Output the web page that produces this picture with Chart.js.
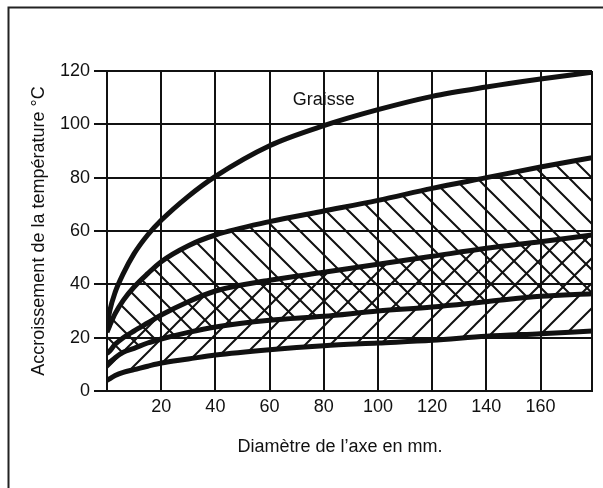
<!DOCTYPE html>
<html lang="fr">
<head>
    <meta charset="UTF-8">
    <title>Accroissement de la température</title>
    <script src="https://cdn.jsdelivr.net/npm/chart.js"></script>
    <style>
        html, body {
            margin: 0;
            padding: 0;
            background-color: #ffffff;
        }
        #chart-box {
            width: 603px;
            height: 488px;
        }
    </style>
</head>
<body>

<div id="chart-box">
    <canvas id="tempChart" width="603" height="488"></canvas>
</div>

<script>
// diamètre de l'axe (mm)
const diameters = [0, 1, 3, 6, 10, 15, 20, 30, 40, 60, 80, 100, 120, 140, 160, 179];

// accroissement de la température (°C), courbes du haut vers le bas
const graisse = [24, 30, 37, 44, 51.5, 58.5, 64, 73, 80.5, 92, 99.5, 105.5, 110.5, 114, 117, 119.5];
const curve2  = [22, 24.5, 29, 34, 39, 44, 48.5, 54.5, 58.5, 63.5, 67.5, 71.5, 76, 80, 84, 87.5];
const curve3  = [14, 15, 17.5, 20, 22.5, 25.5, 28.5, 33.5, 37.5, 41.5, 44.5, 47.5, 50.5, 53.5, 56, 58.5];
const curve4  = [10, 10.8, 12.5, 14.5, 16, 18, 19.5, 22, 24, 26.5, 28, 30, 31.5, 33.5, 35.5, 36.5];
const curve5  = [4, 4.6, 5.8, 7, 8, 9.3, 10.5, 12, 13.5, 15.5, 17, 18, 19, 20.5, 21.5, 22.5];

const xTicks = [20, 40, 60, 80, 100, 120, 140, 160];

const ink = '#111111';
const fontFamily = "'Liberation Sans', Arial, sans-serif";

// hachures
function makeHatch(size, forward) {
    const c = document.createElement('canvas');
    c.width = size;
    c.height = size;
    const g = c.getContext('2d');
    g.strokeStyle = ink;
    g.lineWidth = 2;
    g.beginPath();
    if (forward) {
        g.moveTo(0, size); g.lineTo(size, 0);
        g.moveTo(-2, 2); g.lineTo(2, -2);
        g.moveTo(size - 2, size + 2); g.lineTo(size + 2, size - 2);
    } else {
        g.moveTo(0, 0); g.lineTo(size, size);
        g.moveTo(-2, size - 2); g.lineTo(2, size + 2);
        g.moveTo(size - 2, -2); g.lineTo(size + 2, 2);
    }
    g.stroke();
    return g.createPattern(c, 'repeat');
}

const backHatch = makeHatch(23, false);
const fwdHatch = makeHatch(25, true);

function curve(data, fill, bg) {
    return {
        data: data,
        borderColor: ink,
        borderWidth: 5,
        pointRadius: 0,
        cubicInterpolationMode: 'monotone',
        fill: fill,
        backgroundColor: bg || 'transparent'
    };
}

const decor = {
    id: 'decor',
    afterDraw(chart) {
        const ctx = chart.ctx;
        const x = chart.scales.x, y = chart.scales.y;
        ctx.save();
        // cadre
        ctx.strokeStyle = '#222';
        ctx.lineWidth = 2;
        ctx.beginPath();
        ctx.moveTo(8.5, 488);
        ctx.lineTo(8.5, 7.5);
        ctx.lineTo(603, 7.5);
        ctx.stroke();
        // textes
        ctx.fillStyle = ink;
        ctx.font = '18px ' + fontFamily;
        ctx.textAlign = 'center';
        ctx.textBaseline = 'middle';
        ctx.fillText('Graisse', x.getPixelForValue(80), y.getPixelForValue(109));
        ctx.fillText('Diamètre de l\u2019axe en mm.', 340, 447);
        ctx.restore();
    }
};

new Chart(document.getElementById('tempChart'), {
    type: 'line',
    data: {
        labels: diameters,
        datasets: [
            curve(graisse, false),
            curve(curve2, 3, backHatch),
            curve(curve3, 4, fwdHatch),
            curve(curve4, false),
            curve(curve5, false)
        ]
    },
    options: {
        responsive: false,
        animation: false,
        events: [],
        layout: {
            padding: { top: 71, right: 11, bottom: 0, left: 0 }
        },
        plugins: {
            legend: { display: false },
            tooltip: { enabled: false }
        },
        scales: {
            x: {
                type: 'linear',
                min: 0,
                max: 179,
                afterFit(scale) { scale.height = 97; },
                afterBuildTicks(scale) {
                    scale.ticks = [0].concat(xTicks, [179]).map(v => ({ value: v }));
                },
                ticks: {
                    padding: 5,
                    maxRotation: 0,
                    autoSkip: false,
                    color: ink,
                    font: { family: fontFamily, size: 18 },
                    callback: v => xTicks.includes(v) ? String(v) : ''
                },
                grid: {
                    color: ink,
                    lineWidth: 2,
                    drawTicks: false
                },
                border: { color: ink, width: 2 }
            },
            y: {
                min: 0,
                max: 120,
                afterFit(scale) { scale.width = 107; },
                ticks: {
                    stepSize: 20,
                    padding: 4,
                    color: ink,
                    font: { family: fontFamily, size: 18 }
                },
                grid: {
                    color: ink,
                    lineWidth: 2,
                    tickLength: 13
                },
                border: { color: ink, width: 2 },
                title: {
                    display: true,
                    text: 'Accroissement de la température °C',
                    color: ink,
                    font: { family: fontFamily, size: 18 },
                    padding: { top: 28, bottom: 0 }
                }
            }
        }
    },
    plugins: [decor]
});
</script>

</body>
</html>
